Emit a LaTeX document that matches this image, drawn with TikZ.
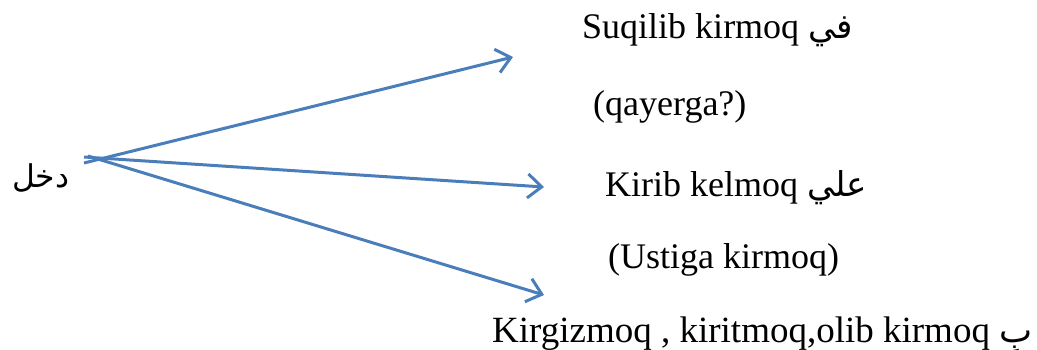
\documentclass[tikz,border=0pt]{standalone}
\usepackage{fontspec}
\setmainfont{Liberation Serif}
\newfontfamily\arabicfont[Script=Arabic,Scale=0.95]{DejaVu Sans}
\TeXXeTstate=1
\usetikzlibrary{arrows.meta}
\newcommand{\ar}[1]{{\arabicfont\beginR #1\endR}}
\definecolor{linkblue}{HTML}{4A7EBB}
\begin{document}
\begin{tikzpicture}[x=1pt,y=-1pt,
  word/.style={anchor=base west,inner sep=0pt,font=\fontsize{36}{40}\selectfont},
  branch/.style={draw=linkblue,line width=3pt,
    -{Straight Barb[length=14pt,width=24pt,line width=3pt]}}]
  \useasboundingbox (0,0) rectangle (1037,349);
  % source word
  \node[word,font=\fontsize{33}{38}\selectfont] (src) at (12,187) {\ar{دخل}};
  % meanings
  \node[word] (m1) at (582,38) {Suqilib kirmoq \ar{في}};
  \node[word] (g1) at (593,115) {(qayerga?)};
  \node[word] (m2) at (605,196) {Kirib kelmoq \ar{علي}};
  \node[word] (g2) at (608,268) {(Ustiga kirmoq)};
  \node[word,font=\fontsize{37}{42}\selectfont] (m3) at (492,342) {Kirgizmoq , kiritmoq,olib kirmoq \ar{بِ}};
  % arrow ends
  \coordinate (s1) at (84,163);
  \coordinate (s2) at (84,157);
  \coordinate (s3) at (88,156);
  \coordinate (t1) at (513,57);
  \coordinate (t2) at (544,187);
  \coordinate (t3) at (544,295);
  \draw[branch] (s1) -- (t1);
  \draw[branch] (s2) -- (t2);
  \draw[branch] (s3) -- (t3);
\end{tikzpicture}
\end{document}
